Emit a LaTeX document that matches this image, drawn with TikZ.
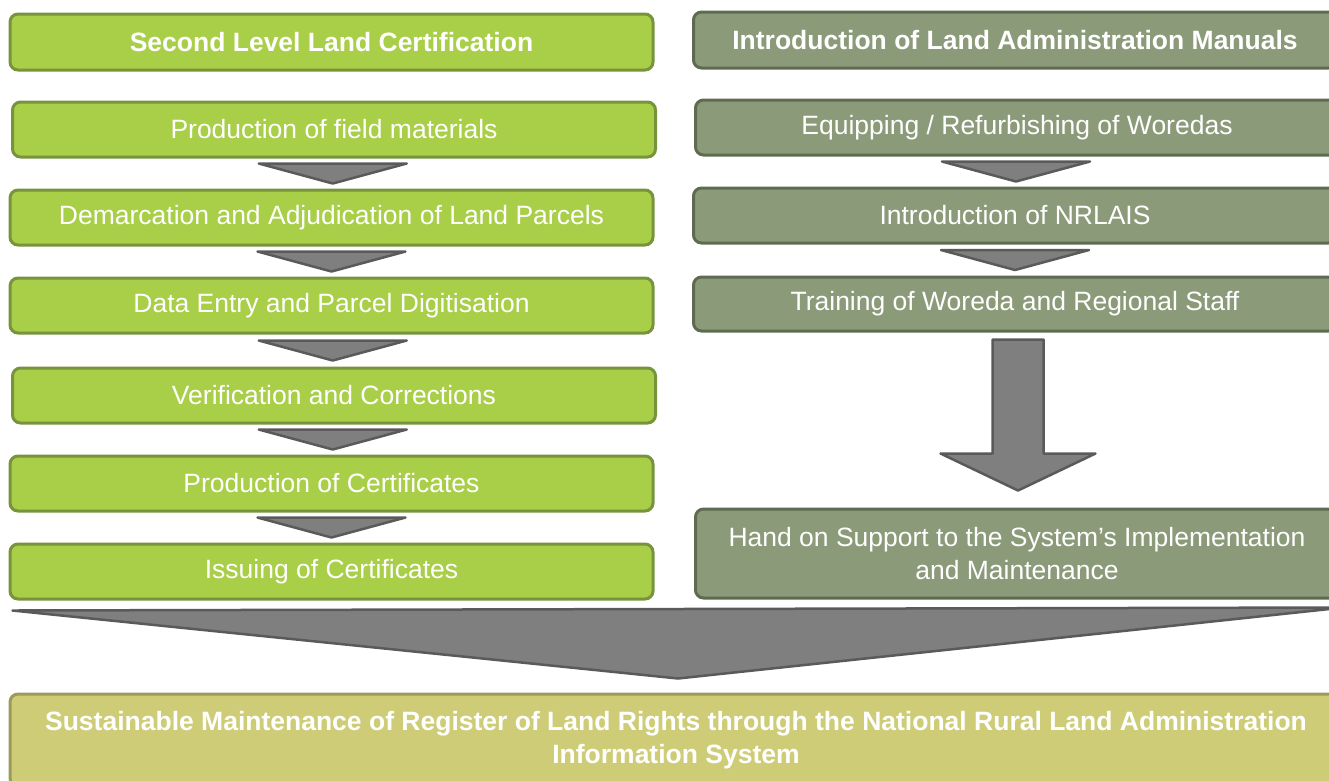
\documentclass[tikz,border=0pt]{standalone}
\usepackage{fontspec}
\setmainfont{Liberation Sans}
\usetikzlibrary{positioning,calc}

\definecolor{certgreen}{HTML}{A9CE48}
\definecolor{certedge}{HTML}{77933C}
\definecolor{admingreen}{HTML}{8B9A79}
\definecolor{adminedge}{HTML}{5E6B50}
\definecolor{goalfill}{HTML}{CFCC78}
\definecolor{goaledge}{HTML}{9B9A58}
\definecolor{flowgray}{HTML}{7F7F7F}
\definecolor{flowedge}{HTML}{5A5A5A}

% small chevron between two stacked boxes
\newcommand{\flowchevron}[2]{%
	\coordinate (m) at ($(#1.south)!0.5!(#2.north)$);
	\filldraw[chevron] ($(m)+(-74,-10)$) -- ($(m)+(74,-10)$) -- ($(m)+(0,10)$) -- cycle;
}

\begin{document}
\begin{tikzpicture}[x=1pt,y=-1pt,
		every node/.style={font=\fontsize{26.5}{33}\selectfont,text=white,align=center},
		certbox/.style={rounded corners=8pt,draw=certedge,fill=certgreen,line width=3pt,
			minimum width=643pt,minimum height=55pt},
		adminbox/.style={certbox,draw=adminedge,fill=admingreen},
		goalbox/.style={certbox,draw=goaledge,fill=goalfill,minimum width=1332pt,minimum height=92pt},
		chevron/.style={fill=flowgray,draw=flowedge,line width=2.5pt,line join=round}
	]

	\useasboundingbox (0,0) rectangle (1329,780);
	\clip (0,0) rectangle (1329,780);

	% Left column
	\node[certbox,minimum height=56pt] (lhead) at (331.5,42) {\bfseries Second Level Land Certification};
	\node[certbox] (l1) at (334,129.5) {Production of field materials};
	\node[certbox] (l2) at (331.5,217.5) {Demarcation and Adjudication of Land Parcels};
	\node[certbox] (l3) at (331.5,305.5) {Data Entry and Parcel Digitisation};
	\node[certbox] (l4) at (334,395.5) {Verification and Corrections};
	\node[certbox] (l5) at (331.5,483.5) {Production of Certificates};
	\node[certbox] (l6) at (331.5,571.5) {Issuing of Certificates};

	\flowchevron{l1}{l2}
	\flowchevron{l2}{l3}
	\flowchevron{l3}{l4}
	\flowchevron{l4}{l5}
	\flowchevron{l5}{l6}

	% Right column
	\node[adminbox,minimum height=56pt] (rhead) at (1015,40) {\bfseries Introduction of Land Administration Manuals};
	\node[adminbox] (r1) at (1017,127.5) {Equipping / Refurbishing of Woredas};
	\node[adminbox] (r2) at (1015,215.5) {Introduction of NRLAIS};
	\node[adminbox,minimum height=54pt] (r3) at (1015,304) {Training of Woreda and Regional Staff};
	\node[adminbox,minimum height=89pt] (r4) at (1017,553.5) {Hand on Support to the System’s Implementation\\and Maintenance};

	\flowchevron{r1}{r2}
	\flowchevron{r2}{r3}

	% Big arrow down to support
	\coordinate (bt) at ($(r3.south)+(3,7)$);
	\coordinate (bh) at ($(r4.north)+(1,-17)$);
	\filldraw[chevron] ($(bt)+(-25.5,0)$) -- ($(bt)+(25.5,0)$) -- ($(bh)+(25.5,-37)$)
		-- ($(bh)+(77.5,-37)$) -- (bh) -- ($(bh)+(-77.5,-37)$) -- ($(bh)+(-25.5,-37)$) -- cycle;

	% Goal
	\node[goalbox] (goal) at (676,740) {\bfseries Sustainable Maintenance of Register of Land Rights through the National Rural Land Administration\\\bfseries Information System};

	\filldraw[chevron] ($(l6.south west)+(4,10)$) -- ($(goal.north east)+(0,-85)$) -- ($(goal.north)+(2,-14)$) -- cycle;

\end{tikzpicture}
\end{document}
